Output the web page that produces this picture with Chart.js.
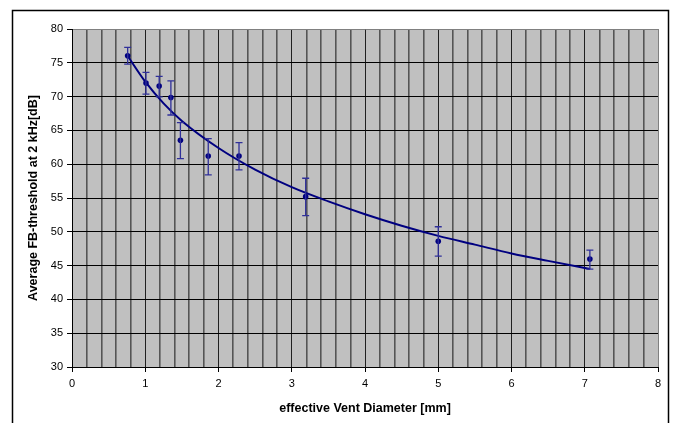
<!DOCTYPE html>
<html>
<head>
<meta charset="utf-8">
<title>FB-threshold vs vent diameter</title>
<script src="https://cdn.jsdelivr.net/npm/chart.js@4.4.1/dist/chart.umd.min.js"></script>
<style>
    html, body { margin: 0; padding: 0; background: #fff; }
    canvas { display: block; }
</style>
</head>
<body>
<canvas id="chart" width="673" height="423"></canvas>
<script>
// measured points (vent diameter in mm, threshold in dB)
const ventDiameter = [0.76, 1.01, 1.19, 1.35, 1.48, 1.86, 2.28, 3.19, 5.0, 7.07];
const threshold    = [76.05, 72.0, 71.55, 69.87, 63.55, 61.22, 61.22, 55.2, 48.6, 45.96];
const errHigh      = [77.28, 73.57, 73.0, 72.34, 66.16, 63.79, 63.2, 57.92, 50.75, 47.3];
const errLow       = [74.8, 70.37, 69.97, 67.28, 60.83, 58.41, 59.15, 52.38, 46.4, 44.48];

// trend line
const trendX = [0.76, 1.0, 1.25, 1.5, 2.0, 2.5, 3.0, 3.5, 4.0, 4.5, 5.0, 5.5, 6.0, 6.5, 7.07];
const trendY = [76.0, 72.2, 69.0, 66.4, 62.4, 59.2, 56.6, 54.5, 52.6, 50.9, 49.4, 48.1, 46.8, 45.7, 44.5];

const xTitle = 'effective Vent Diameter [mm]';
const yTitle = 'Average FB-threshold at 2 kHz[dB]';

const navy = '#000080';
const fontFamily = '"Liberation Sans", Arial, sans-serif';

Chart.defaults.font.family = fontFamily;
Chart.defaults.font.size = 11;
Chart.defaults.color = '#000';

function isInt(v) {
    return Math.abs(v - Math.round(v)) < 1e-6;
}

// grey plot area + outer frame
const backgroundPlugin = {
    id: 'plotBackground',
    beforeDraw(chart) {
        const { ctx, chartArea } = chart;
        ctx.save();
        ctx.fillStyle = '#fff';
        ctx.fillRect(0, 0, chart.width, chart.height);
        ctx.fillStyle = '#c0c0c0';
        ctx.fillRect(chartArea.left, chartArea.top, chartArea.right - chartArea.left, chartArea.bottom - chartArea.top);
        ctx.strokeStyle = '#000';
        ctx.lineWidth = 1.5;
        ctx.strokeRect(12.5, 10.5, 656, 500);
        ctx.restore();
    }
};

// vertical error bars from errHigh / errLow
const errorBarPlugin = {
    id: 'errorBars',
    afterDatasetsDraw(chart) {
        const { ctx } = chart;
        const xs = chart.scales.x;
        const ys = chart.scales.y;
        ctx.save();
        ctx.strokeStyle = '#30309a';
        ctx.lineWidth = 1.3;
        for (let i = 0; i < ventDiameter.length; i++) {
            const px = xs.getPixelForValue(ventDiameter[i]);
            const top = ys.getPixelForValue(errHigh[i]);
            const bot = ys.getPixelForValue(errLow[i]);
            ctx.beginPath();
            ctx.moveTo(px, top);
            ctx.lineTo(px, bot);
            ctx.moveTo(px - 3.5, top);
            ctx.lineTo(px + 3.5, top);
            ctx.moveTo(px - 3.5, bot);
            ctx.lineTo(px + 3.5, bot);
            ctx.stroke();
        }
        ctx.restore();
    }
};

const ctx = document.getElementById('chart').getContext('2d');

new Chart(ctx, {
    type: 'scatter',
    data: {
        datasets: [
            {
                label: 'trend',
                data: trendX.map((x, i) => ({ x: x, y: trendY[i] })),
                showLine: true,
                borderColor: navy,
                borderWidth: 2,
                pointRadius: 0,
                cubicInterpolationMode: 'monotone',
                fill: false
            },
            {
                label: 'measured',
                data: ventDiameter.map((x, i) => ({ x: x, y: threshold[i] })),
                showLine: false,
                backgroundColor: navy,
                borderColor: navy,
                pointRadius: 2.8,
                borderWidth: 0
            }
        ]
    },
    options: {
        responsive: false,
        animation: false,
        devicePixelRatio: 1,
        layout: {
            padding: { left: 12, top: 29, right: 15, bottom: 0 }
        },
        plugins: {
            legend: { display: false },
            tooltip: { enabled: false }
        },
        scales: {
            x: {
                type: 'linear',
                min: 0,
                max: 8,
                afterFit: (scale) => { scale.height = 56; },
                ticks: {
                    stepSize: 0.2,
                    autoSkip: false,
                    maxRotation: 0,
                    padding: 5,
                    color: '#000',
                    font: { size: 11 },
                    callback: (v) => isInt(v) ? String(Math.round(v)) : ''
                },
                grid: {
                    color: (c) => {
                        const v = c.tick ? c.tick.value : 0;
                        if (isInt(v) && Math.round(v) === 8) return '#808080';
                        return isInt(v) ? '#202020' : '#555555';
                    },
                    lineWidth: (c) => {
                        const v = c.tick ? c.tick.value : 0;
                        return isInt(v) ? 1 : 1.6;
                    },
                    tickColor: (c) => {
                        const v = c.tick ? c.tick.value : 0;
                        return isInt(v) ? '#000' : 'rgba(0,0,0,0)';
                    },
                    tickLength: 5,
                    tickWidth: 1
                },
                border: { color: '#000', width: 1 },
                title: {
                    display: true,
                    text: xTitle,
                    color: '#000',
                    font: { size: 12.5, weight: 'bold' },
                    padding: { top: 0, bottom: 7 }
                }
            },
            y: {
                type: 'linear',
                min: 30,
                max: 80,
                afterFit: (scale) => { scale.width = 60; },
                ticks: {
                    stepSize: 5,
                    padding: 4,
                    color: '#000',
                    font: { size: 11 }
                },
                grid: {
                    color: (c) => (c.tick && c.tick.value === 80) ? '#808080' : '#000',
                    lineWidth: 1,
                    tickColor: '#000',
                    tickLength: 5
                },
                border: { color: '#000', width: 1 },
                title: {
                    display: true,
                    text: yTitle,
                    color: '#000',
                    font: { size: 12.5, weight: 'bold' },
                    padding: { top: 14, bottom: 0 }
                }
            }
        }
    },
    plugins: [backgroundPlugin, errorBarPlugin]
});
</script>
</body>
</html>
